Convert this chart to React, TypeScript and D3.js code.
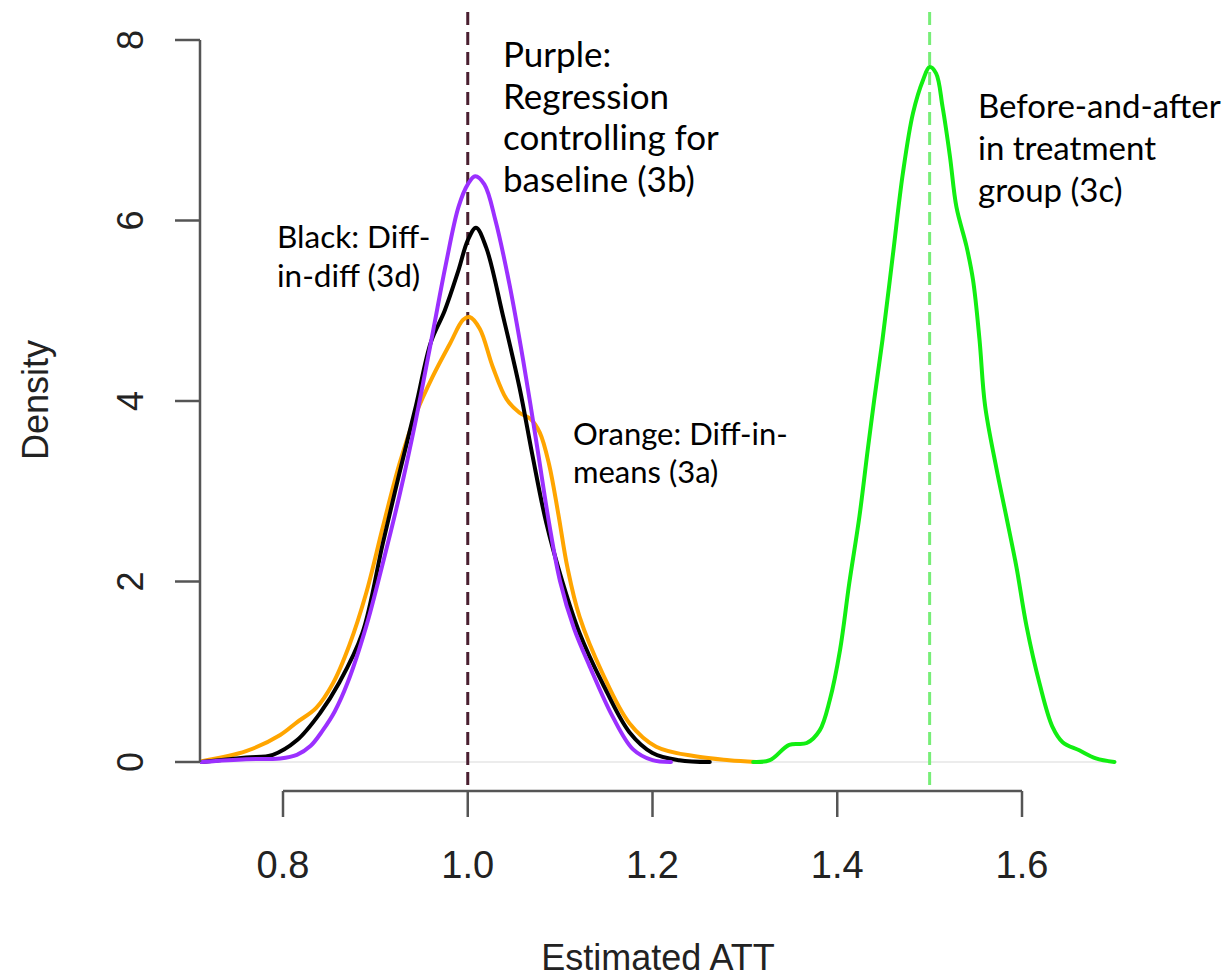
import React from "react";
import * as d3 from "d3";

// ---- Data ----
const purpleX = [0.712, 0.76, 0.797, 0.815, 0.83, 0.843, 0.856, 0.87, 0.89, 0.908, 0.926, 0.944, 0.962, 0.976, 0.99, 1.0, 1.008, 1.018, 1.03, 1.045, 1.06, 1.075, 1.088, 1.1, 1.115, 1.132, 1.157, 1.179, 1.2, 1.22];
const purpleY = [0.0, 0.03, 0.04, 0.08, 0.18, 0.35, 0.56, 0.88, 1.5, 2.2, 2.95, 3.8, 4.75, 5.5, 6.15, 6.4, 6.49, 6.4, 6.0, 5.3, 4.45, 3.5, 2.65, 2.0, 1.48, 1.06, 0.5, 0.14, 0.02, 0.0];

const blackX = [0.712, 0.76, 0.789, 0.815, 0.84, 0.861, 0.886, 0.908, 0.926, 0.944, 0.96, 0.975, 0.99, 1.0, 1.009, 1.02, 1.038, 1.056, 1.07, 1.085, 1.103, 1.121, 1.146, 1.175, 1.2, 1.229, 1.262];
const blackY = [0.0, 0.05, 0.08, 0.24, 0.54, 0.88, 1.43, 2.42, 3.2, 3.95, 4.65, 5.0, 5.45, 5.78, 5.92, 5.7, 4.95, 4.15, 3.4, 2.65, 1.98, 1.43, 0.87, 0.33, 0.1, 0.02, 0.0];

const orangeX = [0.712, 0.76, 0.797, 0.815, 0.836, 0.854, 0.872, 0.89, 0.908, 0.926, 0.944, 0.962, 0.981, 0.995, 1.002, 1.013, 1.027, 1.042, 1.056, 1.068, 1.078, 1.088, 1.098, 1.108, 1.121, 1.146, 1.175, 1.204, 1.248, 1.283, 1.312];
const orangeY = [0.01, 0.12, 0.3, 0.44, 0.6, 0.87, 1.3, 1.87, 2.6, 3.3, 3.86, 4.27, 4.64, 4.9, 4.93, 4.8, 4.38, 4.02, 3.87, 3.8, 3.65, 3.3, 2.75, 2.15, 1.61, 0.98, 0.43, 0.17, 0.06, 0.02, 0.0];

const greenX = [1.309, 1.327, 1.348, 1.367, 1.381, 1.392, 1.403, 1.413, 1.424, 1.433, 1.44, 1.449, 1.46, 1.471, 1.482, 1.493, 1.5, 1.507, 1.514, 1.522, 1.529, 1.54, 1.547, 1.554, 1.56, 1.572, 1.583, 1.594, 1.605, 1.619, 1.633, 1.644, 1.662, 1.68, 1.7];
const greenY = [0.0, 0.02, 0.19, 0.21, 0.35, 0.69, 1.24, 1.98, 2.72, 3.46, 4.01, 4.68, 5.6, 6.52, 7.19, 7.56, 7.7, 7.63, 7.26, 6.71, 6.15, 5.71, 5.34, 4.68, 3.95, 3.27, 2.72, 2.16, 1.5, 0.87, 0.39, 0.22, 0.13, 0.04, 0.0];

const xTicks = [0.8, 1.0, 1.2, 1.4, 1.6];
const yTicks = [0, 2, 4, 6, 8];
const refLines = [1.0, 1.5];

const xLabel = "Estimated ATT";
const yLabel = "Density";

const purpleNote = ["Purple:", "Regression", "controlling for", "baseline (3b)"];
const blackNote = ["Black: Diff-", "in-diff (3d)"];
const orangeNote = ["Orange: Diff-in-", "means (3a)"];
const greenNote = ["Before-and-after", "in treatment", "group (3c)"];

export default function App() {
  const W = 1225, H = 977;
  const x = d3.scaleLinear().domain([0.8, 1.6]).range([283, 1022]);
  const y = d3.scaleLinear().domain([0, 8]).range([762, 40]);
  const line = d3.line<[number, number]>()
    .x((d) => x(d[0]))
    .y((d) => y(d[1]))
    .curve(d3.curveCatmullRom.alpha(0.5));
  const zip = (a: number[], b: number[]) => a.map((v, i) => [v, b[i]] as [number, number]);

  const series = [
    { xs: orangeX, ys: orangeY, color: "#FFA500" },
    { xs: greenX, ys: greenY, color: "#12EE12" },
    { xs: blackX, ys: blackY, color: "#000000" },
    { xs: purpleX, ys: purpleY, color: "#9B30FF" },
  ];

  const axisFont = "'Liberation Sans', Arial, Helvetica, sans-serif";
  const noteFont = "Lato, 'Open Sans', sans-serif";
  const axisColor = "#555";

  const note = (lines: string[], x0: number, y0: number, dy: number, size: number) => (
    <text x={x0} y={y0} fontFamily={noteFont} fontSize={size} fill="#000">
      {lines.map((l, i) => (
        <tspan key={i} x={x0} y={y0 + i * dy}>{l}</tspan>
      ))}
    </text>
  );

  return (
    <svg width={W} height={H} style={{ position: "absolute", left: 0, top: 0, background: "#fff" }}>
      <rect width={W} height={H} fill="#fff" />
      {/* zero line */}
      <line x1={200} x2={1117} y1={y(0)} y2={y(0)} stroke="#ececec" strokeWidth={2} />
      {/* reference dashed lines */}
      <line x1={x(refLines[0])} x2={x(refLines[0])} y1={12} y2={792} stroke="#4a1f30" strokeWidth={3} strokeDasharray="13 7" />
      <line x1={x(refLines[1])} x2={x(refLines[1])} y1={12} y2={792} stroke="#77EE77" strokeWidth={3} strokeDasharray="13 7" />
      {/* curves */}
      {series.map((s, i) => (
        <path key={i} d={line(zip(s.xs, s.ys)) || ""} fill="none" stroke={s.color} strokeWidth={4} strokeLinejoin="round" strokeLinecap="round" />
      ))}
      {/* y axis */}
      <line x1={200} x2={200} y1={y(8)} y2={y(0)} stroke={axisColor} strokeWidth={2.5} />
      {yTicks.map((t) => (
        <g key={t}>
          <line x1={175} x2={200} y1={y(t)} y2={y(t)} stroke={axisColor} strokeWidth={2.5} />
          <text transform={`translate(143,${y(t)}) rotate(-90)`} textAnchor="middle" fontFamily={axisFont} fontSize={36} fill="#222">{t}</text>
        </g>
      ))}
      {/* x axis */}
      <line x1={x(0.8)} x2={x(1.6)} y1={791} y2={791} stroke={axisColor} strokeWidth={2.5} />
      {xTicks.map((t) => (
        <g key={t}>
          <line x1={x(t)} x2={x(t)} y1={791} y2={817} stroke={axisColor} strokeWidth={2.5} />
          <text x={x(t)} y={878} textAnchor="middle" fontFamily={axisFont} fontSize={38} fill="#222">{t.toFixed(1)}</text>
        </g>
      ))}
      <text x={658} y={970} textAnchor="middle" fontFamily={axisFont} fontSize={36} fill="#222">{xLabel}</text>
      <text transform={`translate(48,400) rotate(-90)`} textAnchor="middle" fontFamily={axisFont} fontSize={36} fill="#222">{yLabel}</text>
      {/* annotations */}
      {note(purpleNote, 503, 67, 41.7, 35)}
      {note(blackNote, 277, 248, 39, 31.5)}
      {note(orangeNote, 573, 445, 38, 31)}
      {note(greenNote, 978, 118, 42, 33)}
    </svg>
  );
}
